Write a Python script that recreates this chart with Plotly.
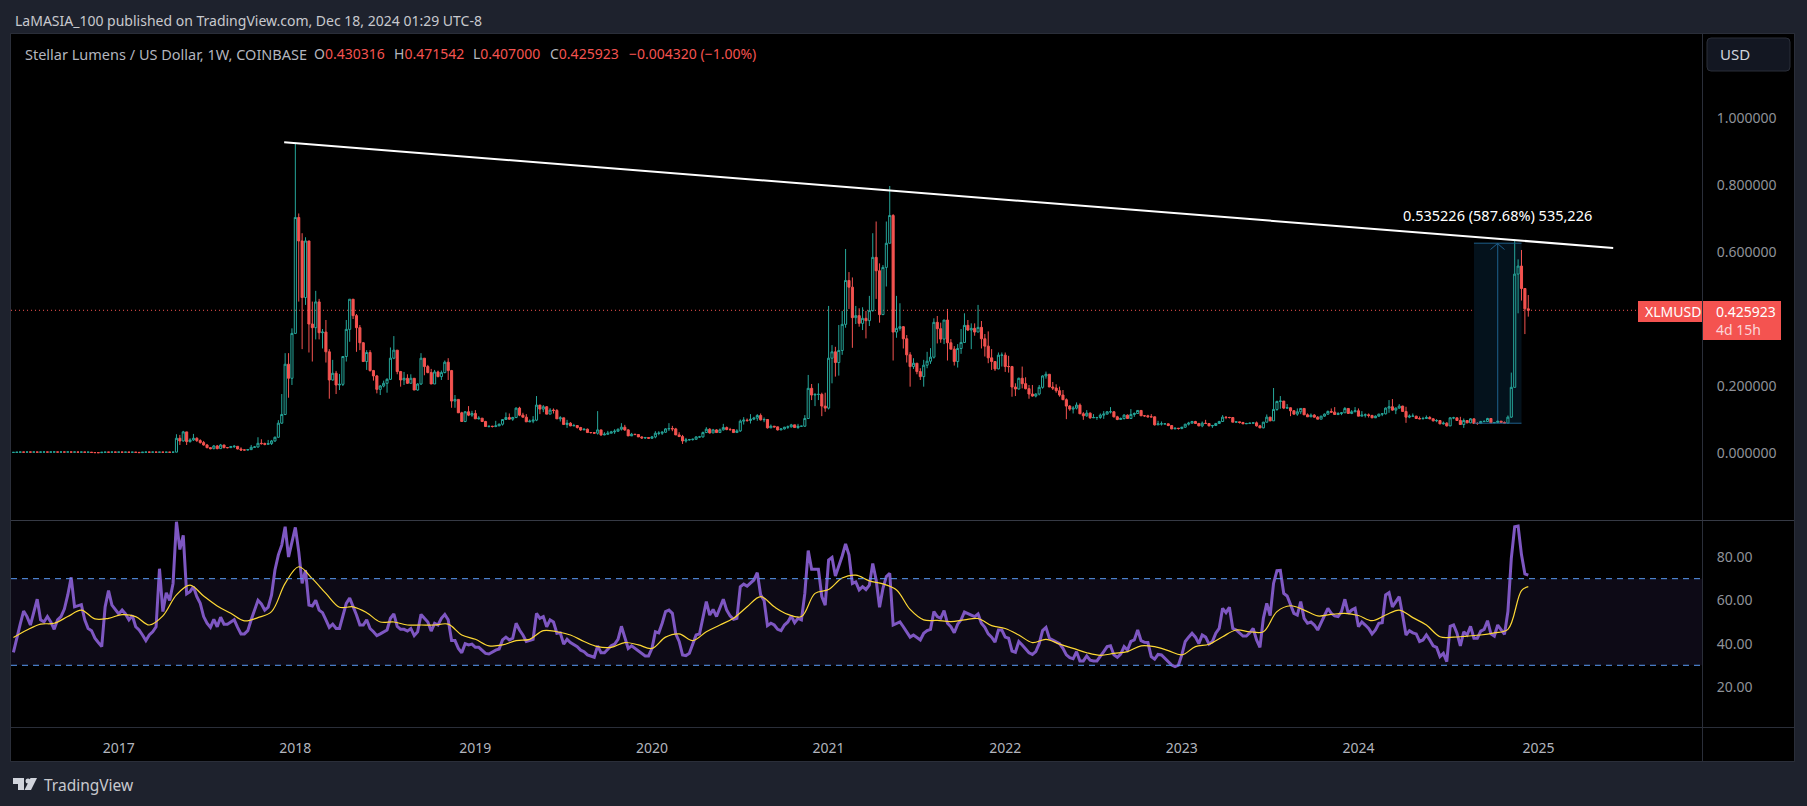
import pandas as pd
import plotly.graph_objects as go

W, H = 1807, 806

closes = [
    .0018,.0024,.0028,.0026,.0030,.0027,.0029,.0026,.0028,.0030,
    .0027,.0029,.0031,.0027,.0030,.0028,.0031,.0027,.0029,.0026,
    .0028,.0024,.0026,.0014,.0011,.0010,.0022,.0026,.0024,.0028,
    .0025,.0027,.0024,.0026,.0022,.0025,.0020,.0012,.0024,.0027,
    .0025,.0027,.0024,.0026,.0023,.0025,.0022,.0026,.044,.036,
    .063,.034,.039,.044,.037,.031,.024,.016,.013,.021,
    .013,.024,.016,.016,.019,.020,.012,.009,.009,.010,
    .017,.018,.029,.028,.026,.028,.036,.047,.089,.115,
    .265,.223,.357,.703,.633,.464,.633,.385,.374,.451,
    .359,.361,.302,.218,.238,.203,.205,.288,.369,.459,
    .410,.374,.329,.273,.300,.246,.230,.190,.200,.208,
    .220,.283,.307,.243,.218,.223,.208,.223,.188,.206,
    .283,.258,.240,.206,.242,.228,.240,.271,.246,.155,
    .160,.120,.094,.123,.113,.118,.102,.104,.094,.079,
    .080,.079,.081,.086,.100,.106,.101,.106,.134,.113,
    .107,.093,.095,.098,.143,.131,.138,.116,.128,.127,
    .102,.105,.085,.089,.081,.082,.076,.069,.071,.061,
    .061,.059,.069,.054,.056,.059,.063,.065,.071,.077,
    .069,.051,.056,.055,.048,.045,.046,.044,.048,.059,
    .059,.062,.072,.073,.072,.054,.049,.036,.039,.040,
    .041,.048,.048,.061,.071,.060,.069,.061,.069,.076,
    .070,.070,.061,.066,.095,.098,.097,.101,.104,.112,
    .099,.100,.075,.080,.078,.069,.072,.077,.078,.084,
    .076,.080,.080,.103,.193,.173,.175,.175,.140,.134,
    .283,.302,.270,.306,.384,.515,.495,.404,.410,.387,
    .402,.395,.425,.584,.544,.413,.554,.626,.709,.361,
    .372,.377,.341,.293,.258,.268,.243,.228,.262,.274,
    .286,.390,.371,.340,.397,.329,.310,.273,.312,.330,
    .381,.367,.372,.361,.375,.341,.319,.284,.273,.251,
    .292,.292,.258,.258,.197,.191,.223,.207,.192,.176,
    .170,.176,.196,.230,.235,.197,.194,.186,.173,.159,
    .140,.131,.134,.143,.117,.111,.119,.105,.106,.106,
    .113,.116,.123,.123,.108,.100,.103,.113,.103,.115,
    .118,.127,.111,.111,.108,.108,.084,.087,.087,.087,
    .082,.072,.074,.073,.077,.086,.089,.094,.088,.081,
    .089,.088,.081,.082,.088,.094,.107,.106,.106,.092,
    .093,.091,.087,.088,.089,.090,.081,.075,.092,.107,
    .096,.130,.154,.155,.134,.135,.126,.116,.123,.133,
    .114,.108,.113,.107,.101,.110,.116,.124,.122,.115,
    .118,.120,.133,.118,.123,.126,.110,.113,.114,.112,
    .105,.110,.116,.117,.134,.138,.128,.134,.140,.124,
    .107,.110,.110,.103,.102,.103,.106,.102,.096,.097,
    .087,.089,.081,.105,.105,.097,.085,.097,.090,.102,
    .088,.088,.094,.094,.103,.090,.091,.095,.091,.089,
    .107,.196,.534,.558,.491,.430316,.425923,
]
highs = [
    .0025,.0029,.0033,.0031,.0035,.0032,.0034,.0031,.0033,.0035,
    .0032,.0034,.0036,.0032,.0035,.0033,.0036,.0032,.0034,.0031,
    .0033,.0029,.0031,.0026,.0016,.0015,.0027,.0031,.0029,.0033,
    .0030,.0032,.0029,.0031,.0027,.0030,.0025,.0024,.0029,.0032,
    .0030,.0032,.0029,.0031,.0028,.0030,.0027,.0031,.056,.054,
    .066,.063,.044,.057,.047,.041,.036,.027,.017,.024,
    .024,.027,.024,.017,.021,.024,.020,.017,.010,.012,
    .024,.021,.047,.041,.031,.039,.039,.049,.098,.176,
    .298,.298,.372,.926,.715,.656,.644,.633,.452,.484,
    .460,.370,.397,.310,.278,.245,.236,.288,.397,.459,
    .459,.415,.382,.331,.307,.307,.248,.233,.203,.216,
    .223,.315,.349,.307,.245,.242,.235,.235,.223,.208,
    .298,.283,.263,.251,.248,.246,.246,.276,.283,.248,
    .173,.160,.123,.125,.140,.126,.128,.110,.104,.096,
    .081,.081,.096,.088,.101,.121,.118,.108,.136,.138,
    .120,.116,.100,.110,.170,.143,.143,.140,.134,.133,
    .131,.110,.105,.099,.092,.087,.082,.078,.073,.073,
    .062,.061,.125,.069,.062,.066,.066,.071,.073,.089,
    .084,.071,.060,.057,.056,.050,.048,.047,.051,.065,
    .065,.065,.074,.089,.081,.075,.062,.054,.045,.042,
    .043,.050,.051,.064,.077,.074,.072,.071,.073,.087,
    .079,.075,.071,.071,.100,.107,.103,.116,.108,.116,
    .118,.106,.100,.085,.080,.076,.073,.078,.082,.087,
    .084,.087,.081,.113,.233,.206,.178,.208,.180,.180,
    .439,.322,.317,.382,.424,.609,.540,.524,.439,.432,
    .435,.424,.469,.656,.691,.566,.561,.691,.797,.713,
    .469,.447,.379,.352,.301,.283,.268,.253,.278,.302,
    .313,.402,.409,.389,.397,.430,.340,.319,.325,.370,
    .417,.397,.387,.387,.442,.394,.355,.363,.310,.274,
    .300,.300,.300,.290,.260,.208,.225,.258,.226,.203,
    .203,.178,.203,.232,.243,.235,.212,.205,.198,.188,
    .163,.143,.140,.151,.148,.122,.128,.121,.116,.108,
    .118,.125,.125,.137,.125,.111,.106,.116,.115,.131,
    .121,.128,.128,.113,.114,.116,.109,.096,.094,.089,
    .088,.083,.076,.074,.078,.087,.093,.096,.096,.090,
    .094,.099,.089,.084,.090,.096,.113,.110,.108,.107,
    .095,.093,.093,.090,.091,.091,.094,.084,.093,.115,
    .108,.194,.156,.170,.155,.146,.136,.128,.133,.134,
    .133,.118,.118,.116,.110,.111,.118,.127,.133,.137,
    .122,.122,.137,.134,.128,.137,.133,.125,.118,.118,
    .114,.112,.117,.119,.136,.158,.161,.136,.146,.141,
    .138,.115,.118,.111,.109,.108,.112,.110,.104,.101,
    .098,.094,.092,.107,.108,.105,.108,.103,.098,.104,
    .100,.092,.096,.098,.105,.103,.092,.096,.095,.094,
    .112,.240,.638,.578,.606,.492,.471542,
]
lows = [
    .0012,.0016,.0022,.0020,.0024,.0021,.0023,.0020,.0022,.0024,
    .0021,.0023,.0025,.0021,.0024,.0022,.0025,.0021,.0023,.0020,
    .0022,.0019,.0020,.0009,.0007,.0006,.0010,.0020,.0018,.0022,
    .0019,.0021,.0018,.0020,.0016,.0019,.0014,.0008,.0010,.0021,
    .0019,.0021,.0018,.0020,.0017,.0019,.0016,.0018,.002,.024,
    .034,.024,.031,.036,.033,.028,.022,.014,.011,.011,
    .011,.012,.014,.014,.015,.015,.011,.006,.008,.008,
    .009,.016,.016,.025,.023,.024,.024,.033,.046,.087,
    .113,.165,.203,.355,.452,.310,.442,.300,.273,.339,
    .339,.312,.270,.162,.216,.176,.188,.200,.273,.332,
    .400,.302,.307,.273,.248,.243,.216,.178,.173,.196,
    .180,.218,.280,.235,.198,.203,.206,.208,.188,.186,
    .203,.232,.238,.206,.206,.226,.218,.238,.218,.135,
    .135,.120,.094,.092,.110,.108,.102,.100,.093,.079,
    .076,.076,.077,.083,.082,.099,.099,.096,.104,.110,
    .106,.093,.092,.089,.095,.116,.122,.116,.116,.118,
    .102,.094,.085,.075,.080,.080,.073,.066,.069,.060,
    .058,.057,.055,.051,.053,.054,.059,.057,.063,.067,
    .066,.051,.054,.054,.048,.042,.042,.042,.042,.044,
    .053,.054,.060,.066,.065,.054,.049,.027,.031,.037,
    .037,.039,.045,.046,.060,.058,.059,.060,.060,.067,
    .068,.066,.060,.060,.063,.085,.093,.088,.098,.096,
    .097,.092,.073,.075,.076,.067,.068,.070,.072,.076,
    .075,.072,.078,.078,.102,.158,.140,.158,.110,.123,
    .130,.208,.228,.231,.293,.374,.430,.314,.385,.377,
    .367,.342,.379,.422,.460,.389,.412,.497,.626,.276,
    .344,.365,.312,.270,.198,.251,.235,.218,.198,.253,
    .266,.282,.327,.329,.325,.276,.310,.261,.255,.296,
    .329,.364,.310,.350,.361,.312,.288,.268,.248,.245,
    .250,.258,.242,.240,.168,.170,.190,.193,.190,.162,
    .168,.166,.172,.192,.222,.197,.188,.180,.168,.159,
    .101,.126,.118,.130,.117,.099,.108,.102,.105,.099,
    .102,.102,.115,.118,.106,.098,.099,.100,.102,.105,
    .108,.117,.111,.108,.106,.106,.082,.084,.082,.085,
    .080,.071,.072,.070,.071,.075,.082,.088,.087,.080,
    .077,.087,.080,.075,.081,.087,.093,.101,.103,.092,
    .090,.088,.087,.087,.088,.088,.079,.075,.074,.091,
    .095,.096,.126,.132,.131,.133,.110,.115,.111,.116,
    .114,.108,.110,.106,.101,.101,.108,.114,.120,.114,
    .113,.113,.120,.118,.116,.122,.110,.111,.106,.106,
    .104,.108,.108,.110,.115,.120,.126,.116,.132,.124,
    .090,.104,.108,.102,.101,.101,.102,.101,.094,.092,
    .086,.085,.079,.080,.101,.096,.084,.075,.089,.089,
    .087,.084,.087,.092,.093,.089,.089,.089,.090,.089,
    .088,.105,.196,.417,.455,.355,.407,
]
rsi_values = [
    36,43,49,55,52.5,48.6,54,60.5,51,50,
    52.5,50,46.6,51,52.5,56,62.5,70.6,57,57.4,
    58,51,47,46,42.5,40.5,38.6,57,64.5,57.8,
    56,53.7,55.5,53.7,51,53,47.8,46.3,44,41.4,
    44,45.5,47.8,74.6,54.8,63.5,60,67.8,96.3,83.5,
    90,63,64,66.3,61.7,58.6,52.5,49.4,47.5,51.2,
    47.8,52.2,49,49,50,51,47.5,44.5,44.5,46,
    51,55.5,60,58.3,55.5,56.8,62.5,74,81,85.5,
    94,80,87,93.7,82.5,67.8,74,57.8,57.4,60,
    55.5,54.3,51,47.5,49,47,47,52.5,58.6,61,
    57.4,53.2,48.6,48.6,51,47,45.5,43.7,44.5,45.5,
    46.3,51.7,53.7,48,46.6,46.6,45.8,47,43.7,45.5,
    53.5,51.7,50,45.8,49.4,48.6,51.7,53.5,51,41.4,
    41.4,37.8,35.8,40,39.4,39.8,38.3,38.3,37,35.5,
    35.2,36.3,37,37.5,41.7,43,41.7,42.5,49.4,46.3,
    44,41,41.4,42,54,51.7,52.5,47.8,51,50,
    44.8,45,39.8,42,40.5,39.5,38.6,37,36.3,34.8,
    34.3,33.7,39,35.8,35.8,37.4,39,39.8,42,48,
    43,37.8,39,37.8,36.3,35.2,34.3,34.3,37.8,45.5,
    45,49.4,54.8,55.5,54,44.5,41,34.8,34.5,35.5,
    40,44,44.5,52.5,59.4,53.2,55.8,52.5,56.8,60.5,
    55.5,52.8,51.2,51.7,66.3,67.5,66.6,67.8,69.4,72.8,
    62.5,60,48.3,49.4,48.6,46.6,46,48.6,50,52.8,
    49.7,51.7,51,63.2,83,74.3,74.3,74.3,61.7,57.8,
    78.6,79.8,71.2,75.5,80.5,86,81,67.8,68.5,64.8,
    66.3,65,67,77,69.4,56.8,65.5,71,72.5,48.6,
    49.4,50,47.8,45.5,43,44,43,41.7,44.8,46,
    46.6,54.8,52.5,51.7,55.2,49.4,47.8,45,49,51,
    54.6,53.7,53.2,52.5,53.7,49.4,47.5,44.5,43,40.7,
    46.3,46.3,43,42.5,36.6,36,41,39.4,37.8,35.8,
    35,36.3,40,46,47.5,42.5,41.7,41,40,37.8,
    34.8,33.5,33,36.3,32,32,34.3,32.4,32,32,
    34,36.3,38.6,39,34.8,33.7,35.2,38.6,37,41,
    41.7,46.3,41.4,40.6,40.5,34,32.8,35,34.8,33.2,
    31.7,30.1,29.4,30.1,34.8,41,43,44.8,43,40,
    44,43,39.8,41,44.8,47,56.3,54.3,56.8,47,
    46.3,44.8,43.5,43.5,45,47,41.7,38.3,51.7,58.6,
    53,67.8,73.7,73.8,63.2,62,57.8,54,53.2,59.4,
    51.7,49.4,50,48.6,46.3,49.4,52.5,56.3,54,52.8,
    52.5,54.8,60.5,54,55.5,56.3,47.8,50,48.6,47,
    44.5,46.3,49.4,49.7,62.5,63.5,57,59.4,61.7,53.2,
    44,46,45,44.5,41,41.7,44,41.7,39,38.3,
    34,35.5,31.7,48,48.6,44.8,39,45.5,44,48,
    42.5,42.5,45.8,46.6,50.6,44.5,43.5,48.6,46.6,44.3,
    54.8,79.4,94,94.3,81,72.2,71.6,
]
# yellow average read every 4th week, last point is the final bar
rsi_ma_values = [
    42.8,46.3,49,49.4,52.5,55.5,51.4,51.7,53.4,52.5,
    48.6,52.8,62.5,67,62,57.4,54,50.5,52,54.8,
    67.8,75.5,70,63.2,56.8,57,54.3,50,50,48.6,
    48.6,48.6,49,44,42,39,39.4,41.4,42,46,
    45.5,44,41,38.6,38.3,40.5,39.4,37.8,43,44.5,
    41.4,45.5,48.6,51.7,57,61.7,57,53.5,52.5,63.2,
    65,70.3,71.6,69,67.6,64.8,55.8,51,50.7,50.2,
    51,51.6,48.3,47,44,40.5,42,39.8,37.8,35.8,
    34.6,35.5,36.3,39,38.6,36.8,34.8,38.6,39.7,43.2,
    46.3,45.5,45.5,54.8,57.5,55.5,52.8,53.5,54,53,
    50.6,53.2,55.5,52,48.6,43.2,43,43.5,44,45,
    46.6,64.5,66.3,
]
year_ticks = ["2017-01-02", "2018-01-01", "2019-01-07", "2020-01-06", "2021-01-04",
              "2022-01-03", "2023-01-02", "2024-01-01", "2025-01-06"]
year_labels = ["2017", "2018", "2019", "2020", "2021", "2022", "2023", "2024", "2025"]
price_ticks = [0.0, 0.2, 0.6, 0.8, 1.0]
rsi_ticks = [20, 40, 60, 80]
trend_dates = ["2017-12-09", "2025-06-09"]
trend_prices = [0.9275, 0.612]
measure_low = 0.0889
measure_high = 0.6263
last_price = 0.425923

assert len(closes) == len(highs) == len(lows) == len(rsi_values) == 447
assert len(rsi_ma_values) == 113

weeks = pd.date_range("2016-05-30", periods=447, freq="7D")
opens = [closes[0]] + closes[:-1]
ma_index = list(range(0, 447, 4)) + [446]
ma_weeks = weeks[ma_index]

BG = "#1e222d"
EDGE = "#2a2e39"
UP = "#26a69a"
DOWN = "#f45350"
MEASURE = "#1e5f8c"
FONT = "Noto Sans"


def px(x):
    return x / W


def py(y):
    return 1 - y / H


def box(x0, y0, x1, y1, **kw):
    return dict(type="rect", xref="paper", yref="paper", x0=px(x0), x1=px(x1),
                y0=py(y1), y1=py(y0), **kw)


def rule(x0, y0, x1, y1, color=EDGE, width=1):
    return dict(type="line", xref="paper", yref="paper", x0=px(x0), x1=px(x1), y0=py(y0), y1=py(y1),
                line=dict(color=color, width=width), layer="above")


def label(x, y, text, size=14, color="#c8c9ce", anchor="left"):
    return dict(xref="paper", yref="paper", x=px(x), y=py(y), text=text, showarrow=False,
                xanchor=anchor, yanchor="middle", align="left",
                font=dict(family=FONT, size=size, color=color))


def red(text):
    return f'<span style="color:{DOWN}">{text}</span>'


fig = go.Figure()

fig.add_trace(go.Candlestick(x=weeks, open=opens, high=highs, low=lows, close=closes,
                             xaxis="x", yaxis="y", whiskerwidth=0,
                             increasing=dict(fillcolor="rgba(0,0,0,0)", line=dict(color=UP, width=1)),
                             decreasing=dict(fillcolor=DOWN, line=dict(color=DOWN, width=1)),
                             showlegend=False))
fig.add_trace(go.Scatter(x=trend_dates, y=trend_prices, mode="lines", xaxis="x", yaxis="y",
                         line=dict(color="#ffffff", width=2), showlegend=False))
fig.add_trace(go.Scatter(x=weeks, y=rsi_values, mode="lines", xaxis="x", yaxis="y2",
                         line=dict(color="#7e57c2", width=3), showlegend=False))
fig.add_trace(go.Scatter(x=ma_weeks, y=rsi_ma_values, mode="lines", xaxis="x", yaxis="y2",
                         line=dict(color="#fdd835", width=1.2, shape="spline"), showlegend=False))

shapes = [
    # dark frame behind both panes
    box(11, 34, 1794, 761, fillcolor="#000000", line=dict(width=0), layer="below"),
    # rsi band
    dict(type="rect", xref="x domain", yref="y2", x0=0, x1=1, y0=30, y1=70,
         fillcolor="#0d0a16", line=dict(width=0), layer="below"),
    dict(type="line", xref="x domain", yref="y2", x0=0, x1=1, y0=70, y1=70,
         line=dict(color="#5b9cf6", width=1, dash="6px,5px"), layer="above"),
    dict(type="line", xref="x domain", yref="y2", x0=0, x1=1, y0=30, y1=30,
         line=dict(color="#5b9cf6", width=1, dash="6px,5px"), layer="above"),
    # price range tool
    dict(type="rect", xref="x", yref="y", x0=weeks[430], x1=weeks[444], y0=measure_low, y1=measure_high,
         fillcolor="#04121c", line=dict(width=0), layer="below"),
    dict(type="line", xref="x", yref="y", x0=weeks[430], x1=weeks[444], y0=measure_low, y1=measure_low,
         line=dict(color=MEASURE, width=1), layer="above"),
    dict(type="line", xref="x", yref="y", x0=weeks[430], x1=weeks[444], y0=measure_high, y1=measure_high,
         line=dict(color=MEASURE, width=1), layer="above"),
    dict(type="line", xref="x", yref="y", x0=weeks[437], x1=weeks[437], y0=measure_low, y1=measure_high,
         line=dict(color=MEASURE, width=1), layer="below"),
    rule(1490.5, 249.5, 1497.5, 243.5, MEASURE),
    rule(1497.5, 243.5, 1504.5, 249.5, MEASURE),
    # last price line and tags
    dict(type="line", xref="x domain", yref="y", x0=0, x1=(1638 - 11) / (1702 - 11),
         y0=last_price, y1=last_price, line=dict(color=DOWN, width=1, dash="1px,3px"), layer="below"),
    box(1638, 301, 1702, 322, fillcolor=DOWN, line=dict(width=0), layer="above"),
    box(1703, 301, 1781, 340, fillcolor=DOWN, line=dict(width=0), layer="above"),
    # frame lines
    rule(10.5, 33.5, 1794.5, 33.5),
    rule(10.5, 33.5, 10.5, 761.5),
    rule(1794.5, 33.5, 1794.5, 761.5),
    rule(10.5, 761.5, 1794.5, 761.5),
    rule(1702.5, 34, 1702.5, 761),
    rule(11, 520.5, 1794, 520.5, "#363a45"),
    rule(11, 727.5, 1794, 727.5),
    # USD button
    dict(type="path", xref="paper", yref="paper",
         path=(f"M {px(1711)} {py(38)} L {px(1786)} {py(38)} Q {px(1790)} {py(38)} {px(1790)} {py(42)} "
               f"L {px(1790)} {py(67)} Q {px(1790)} {py(71)} {px(1786)} {py(71)} "
               f"L {px(1711)} {py(71)} Q {px(1707)} {py(71)} {px(1707)} {py(67)} "
               f"L {px(1707)} {py(42)} Q {px(1707)} {py(38)} {px(1711)} {py(38)} Z"),
         fillcolor="#131722", line=dict(color=EDGE, width=1), layer="above"),
    # TradingView mark
    dict(type="path", xref="paper", yref="paper",
         path=(f"M {px(13)} {py(778)} L {px(24)} {py(778)} L {px(24)} {py(790)} L {px(18)} {py(790)} "
               f"L {px(18)} {py(784)} L {px(13)} {py(784)} Z"),
         fillcolor="#d1d4dc", line=dict(width=0), layer="above"),
    dict(type="circle", xref="paper", yref="paper", x0=px(25.5), x1=px(30.5), y0=py(783.5), y1=py(778.5),
         fillcolor="#d1d4dc", line=dict(width=0), layer="above"),
    dict(type="path", xref="paper", yref="paper",
         path=(f"M {px(37)} {py(778)} L {px(31)} {py(790)} L {px(24.5)} {py(790)} L {px(30.5)} {py(778)} Z"),
         fillcolor="#d1d4dc", line=dict(width=0), layer="above"),
]

annotations = [
    label(13, 20, "LaMASIA_100 published on TradingView.com, Dec 18, 2024 01:29 UTC-8"),
    label(23, 54, "Stellar Lumens / US Dollar, 1W, COINBASE", size=14.5, color="#b2b5be"),
    label(312, 54, "O" + red("0.430316"), color="#b2b5be"),
    label(392, 54, "H" + red("0.471542"), color="#b2b5be"),
    label(471, 54, "L" + red("0.407000"), color="#b2b5be"),
    label(548, 54, "C" + red("0.425923"), color="#b2b5be"),
    label(627, 54, red("\u22120.004320 (\u22121.00%)")),
    label(1497, 215, "0.535226 (587.68%) 535,226", size=14.5, color="#ffffff", anchor="center"),
    label(1643, 311.5, "XLMUSD", color="#ffffff"),
    label(1714, 311.5, "0.425923", color="#ffffff"),
    label(1714, 329.5, "4d 15h", color="#fbd5d8"),
    label(1718, 54, "USD", size=15, color="#d1d4dc"),
    label(42, 785, "TradingView", size=15.5, color="#c8c9ce"),
]

axis_font = dict(family=FONT, size=14, color="#8f9299")

fig.update_layout(
    width=W, height=H,
    margin=dict(l=0, r=0, t=0, b=0, autoexpand=False),
    paper_bgcolor=BG,
    plot_bgcolor="#000000",
    showlegend=False,
    hovermode=False,
    boxgap=0.12,
    shapes=shapes,
    annotations=annotations,
    xaxis=dict(domain=[px(11), px(1702)], anchor="y2", range=["2016-05-25", "2025-12-09"],
               type="date", rangeslider=dict(visible=False), showgrid=False, zeroline=False,
               tickmode="array", tickvals=year_ticks, ticktext=year_labels,
               ticks="outside", ticklen=8, tickcolor="rgba(0,0,0,0)",
               tickfont=dict(family=FONT, size=14, color="#b2b5be")),
    yaxis=dict(domain=[py(520), py(34)], anchor="x", side="right", range=[-0.2, 1.2507],
               showgrid=False, zeroline=False, tickmode="array", tickvals=price_ticks,
               tickformat=".6f", ticks="outside", ticklen=11, tickcolor="rgba(0,0,0,0)", tickfont=axis_font),
    yaxis2=dict(domain=[py(727), py(520)], anchor="x", side="right", range=[1.5, 97.1],
                showgrid=False, zeroline=False, tickmode="array", tickvals=rsi_ticks,
                tickformat=".2f", ticks="outside", ticklen=11, tickcolor="rgba(0,0,0,0)", tickfont=axis_font),
)

fig.write_html("out.html", config=dict(displayModeBar=False),
               post_script="document.body.style.margin='0';document.body.style.overflow='hidden';")
